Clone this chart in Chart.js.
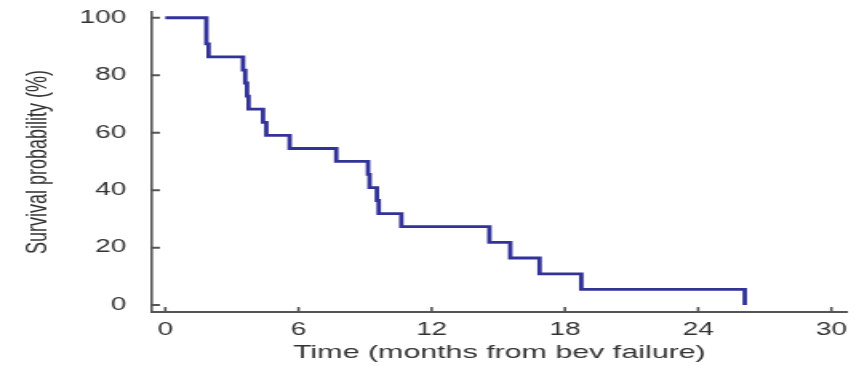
<!DOCTYPE html>
<html>
<head>
<meta charset="utf-8">
<script src="https://cdn.jsdelivr.net/npm/chart.js@4/dist/chart.umd.min.js"></script>
<style>
  html, body { margin: 0; padding: 0; background: #fff; }
</style>
</head>
<body>
<!-- the source figure is stretched sideways, so the bitmap is drawn narrow and widened by CSS -->
<canvas id="chart" width="537" height="366" style="width: 859px; height: 366px;"></canvas>
<script>
// Kaplan-Meier steps (months, survival %)
const months = [0, 1.85, 1.95, 3.5, 3.6, 3.68, 3.75, 4.4, 4.55, 5.6, 7.7, 9.13, 9.2, 9.53, 9.61, 10.63, 14.6, 15.54, 16.86, 18.74, 26.1]
const survival = [100, 90.9, 86.4, 81.8, 77.3, 72.7, 68.2, 63.6, 59.1, 54.5, 50, 45.5, 40.9, 36.4, 31.8, 27.3, 21.8, 16.4, 10.9, 5.5, 0]

const xTicks = [0, 6, 12, 18, 24, 30]
const yTicks = [0, 20, 40, 60, 80, 100]

const axisColor = '#555'
const textColor = '#333'
const lineColor = 'rgb(50,50,152)'

// ticks of the original point into the plot, so draw them by hand from the scales
const inwardTicks = {
  id: 'inwardTicks',
  afterDraw (chart) {
    const { ctx, scales: { x, y } } = chart
    ctx.save()
    ctx.strokeStyle = axisColor
    ctx.lineWidth = 1.6
    ctx.beginPath()
    x.ticks.forEach(t => {
      const px = x.getPixelForValue(t.value)
      ctx.moveTo(px, x.top)
      ctx.lineTo(px, x.top - 5)
    })
    ctx.stroke()
    ctx.lineWidth = 2
    ctx.beginPath()
    y.ticks.forEach(t => {
      const py = y.getPixelForValue(t.value)
      ctx.moveTo(y.right, py)
      ctx.lineTo(y.right + 5, py)
    })
    ctx.stroke()
    ctx.restore()
  }
}

new Chart(document.getElementById('chart'), {
  type: 'line',
  data: {
    datasets: [{
      data: months.map((m, i) => ({ x: m, y: survival[i] })),
      stepped: 'before',
      borderColor: lineColor,
      borderWidth: 2.8,
      pointRadius: 0,
      fill: false
    }]
  },
  options: {
    responsive: false,
    animation: false,
    events: [],
    devicePixelRatio: 1,
    layout: { padding: { top: 12, right: 7.6, left: 0, bottom: 0 } },
    plugins: { legend: { display: false }, tooltip: { enabled: false } },
    scales: {
      x: {
        type: 'linear',
        min: -0.6,
        max: 30.7,
        afterBuildTicks: s => { s.ticks = xTicks.map(v => ({ value: v })) },
        afterFit: s => {
          s.height = 54
          s.paddingLeft = 0
          s.paddingRight = 0
        },
        grid: { display: false },
        border: { display: true, color: axisColor, width: 2 },
        ticks: {
          padding: 0,
          maxRotation: 0,
          color: textColor,
          font: { family: 'Liberation Sans', size: 17.5 }
        },
        title: {
          display: true,
          text: 'Time (months from bev failure)',
          color: textColor,
          padding: { top: 0, bottom: 1.5 },
          font: { family: 'Liberation Sans', size: 19 }
        }
      },
      y: {
        min: -2.4,
        max: 102,
        afterBuildTicks: s => { s.ticks = yTicks.map(v => ({ value: v })) },
        afterFit: s => {
          s.width = 95
          s.paddingTop = 0
          s.paddingBottom = 0
        },
        grid: { display: false },
        border: { display: true, color: axisColor, width: 1.6 },
        ticks: {
          padding: 8,
          color: textColor,
          font: { family: 'Liberation Sans', size: 17.5 }
        },
        title: {
          display: true,
          text: 'Survival probability (%)',
          color: textColor,
          padding: { top: 13, bottom: 0 },
          font: { family: 'Liberation Sans', size: 18 }
        }
      }
    }
  },
  plugins: [inwardTicks]
})
</script>
</body>
</html>
